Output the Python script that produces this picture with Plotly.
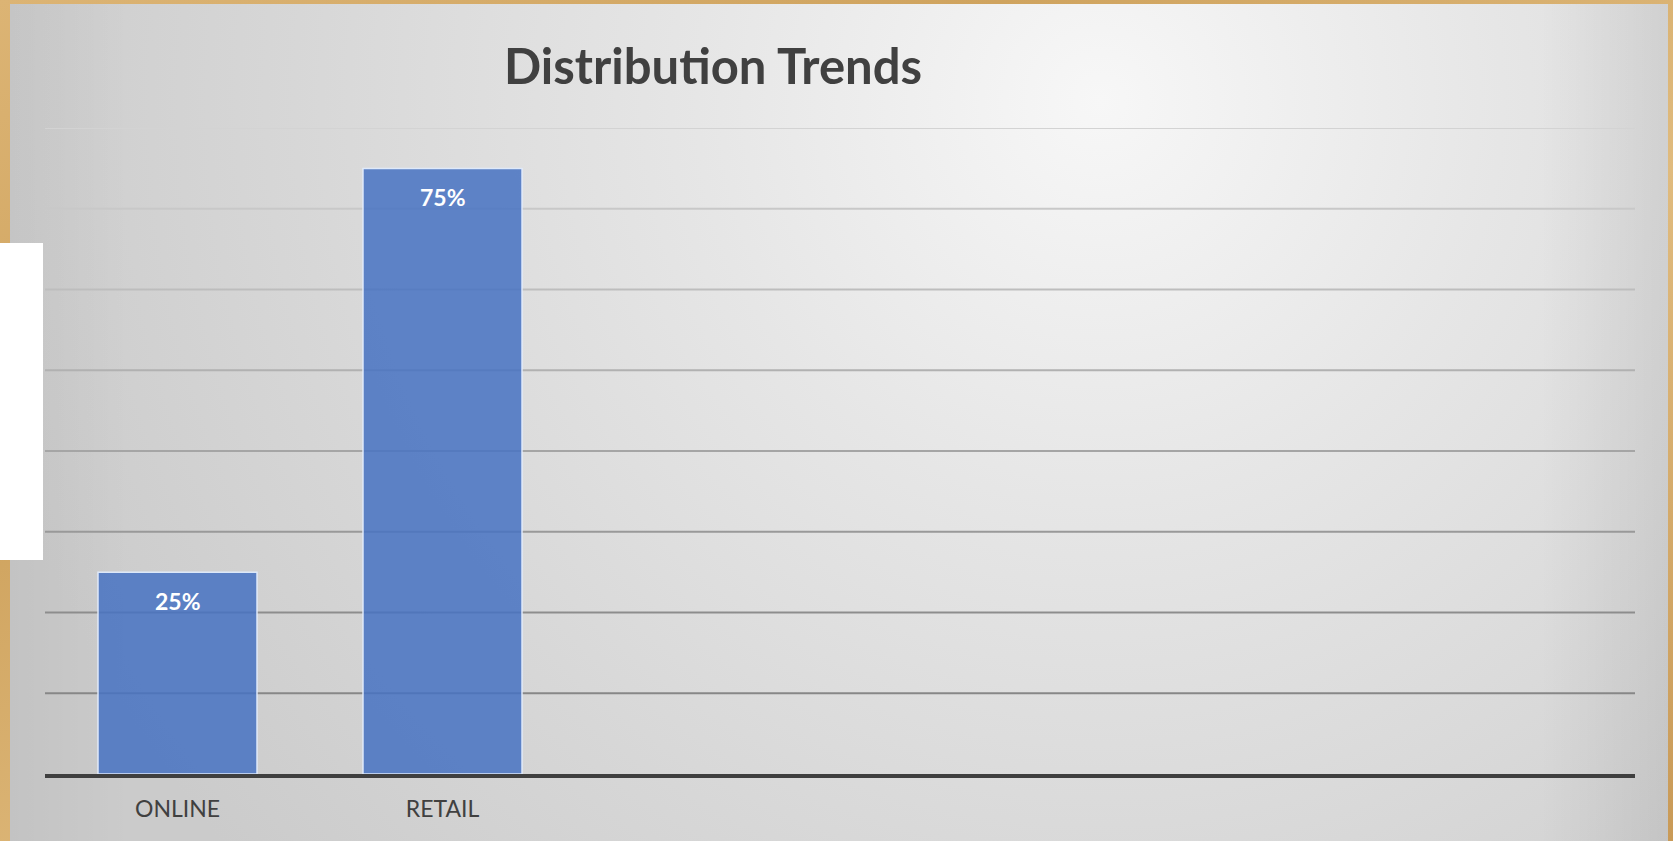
import base64
import plotly.graph_objects as go

# ---- data ----
categories = ["ONLINE", "RETAIL"]
values = [0.25, 0.75]
slot_count = 6                      # chart has room for six category slots
grid_values = [0.1, 0.2, 0.3, 0.4, 0.5, 0.6, 0.7, 0.8]
title_text = "Distribution Trends"

# ---- geometry ----
W, H = 1673, 841
ML, MR, MT, MB = 45, 38, 128, 67
PW, PH = W - ML - MR, H - MT - MB

# background picture (wood frame, gradient panel, white strip) as SVG
svg = f'''<svg xmlns="http://www.w3.org/2000/svg" width="{W}" height="{H}" viewBox="0 0 {W} {H}">
<defs>
<linearGradient id="wood" x1="0" y1="0" x2="1" y2="1">
<stop offset="0" stop-color="#dcb474"/><stop offset="0.3" stop-color="#cfa35e"/>
<stop offset="0.6" stop-color="#e0bb7e"/><stop offset="1" stop-color="#c99a57"/>
</linearGradient>
<radialGradient id="panel" gradientUnits="userSpaceOnUse" cx="1100" cy="100" r="1150">
<stop offset="0" stop-color="#f7f7f7"/><stop offset="0.35" stop-color="#e6e6e6"/>
<stop offset="0.7" stop-color="#d7d7d7"/><stop offset="1" stop-color="#cbcbcb"/>
</radialGradient>
<linearGradient id="edgeR" x1="0" y1="0" x2="1" y2="0">
<stop offset="0" stop-color="#000" stop-opacity="0"/><stop offset="1" stop-color="#000" stop-opacity="0.07"/>
</linearGradient>
<linearGradient id="edgeL" x1="0" y1="0" x2="1" y2="0">
<stop offset="0" stop-color="#000" stop-opacity="0.04"/><stop offset="1" stop-color="#000" stop-opacity="0"/>
</linearGradient>
</defs>
<rect x="0" y="0" width="{W}" height="{H}" fill="url(#wood)"/>
<rect x="10" y="4" width="1658" height="860" fill="url(#panel)"/>
<rect x="1540" y="4" width="128" height="860" fill="url(#edgeR)"/>
<rect x="10" y="4" width="120" height="860" fill="url(#edgeL)"/>
<rect x="0" y="243" width="43" height="317" fill="#ffffff"/>
</svg>'''
svg_uri = "data:image/svg+xml;base64," + base64.b64encode(svg.encode()).decode()

xs = list(range(len(categories)))

fig = go.Figure()
fig.add_trace(go.Bar(
    x=xs, y=values, width=0.6,
    marker=dict(color="rgba(70,114,194,0.85)",
                line=dict(color="rgba(225,236,252,0.95)", width=1.5)),
    hoverinfo="skip",
))

# data labels near the top inside each bar
for xv, v in zip(xs, values):
    fig.add_annotation(x=xv, y=v, text=f"{round(v*100)}%", showarrow=False,
                       yanchor="middle", yshift=-29,
                       font=dict(family="Lato", size=23, color="#ffffff", weight="bold"))

# gridlines, darker towards the bottom like the photographed slide
grid_colors = ["#878787", "#8d8d8d", "#999999", "#a5a5a5", "#b1b1b1", "#bdbdbd", "#c8c8c8", "#d3d3d3"]
for gv, gc in zip(grid_values, grid_colors):
    fig.add_shape(type="line", xref="paper", yref="y", x0=0, x1=1, y0=gv, y1=gv,
                  line=dict(color=gc, width=2), layer="below")

fig.add_layout_image(dict(
    source=svg_uri, xref="paper", yref="paper",
    x=-ML / PW, y=(PH + MT) / PH, sizex=W / PW, sizey=H / PH,
    xanchor="left", yanchor="top", sizing="stretch", layer="below",
))

fig.update_layout(
    width=W, height=H,
    margin=dict(l=ML, r=MR, t=MT, b=MB),
    paper_bgcolor="#d2a867",
    plot_bgcolor="rgba(0,0,0,0)",
    showlegend=False,
    title=dict(text=title_text, x=713 / W, xanchor="center", y=1 - 67 / H, yanchor="middle",
               font=dict(family="Lato", size=49, color="#404040", weight="bold")),
    xaxis=dict(range=[-0.5, slot_count - 0.5], tickvals=xs, ticktext=categories,
               showgrid=False, zeroline=False, showline=True, linecolor="#3f3f3f", linewidth=3.5,
               ticks="", tickfont=dict(family="Lato", size=23, color="#404040"),
               ticklabelstandoff=12, fixedrange=True),
    yaxis=dict(range=[0, 0.8], showgrid=False, zeroline=False, showticklabels=False,
               ticks="", fixedrange=True),
)

fig.write_html("out.html", config={"displayModeBar": False},
               post_script="document.body.style.margin='0';document.body.style.overflow='hidden';")
